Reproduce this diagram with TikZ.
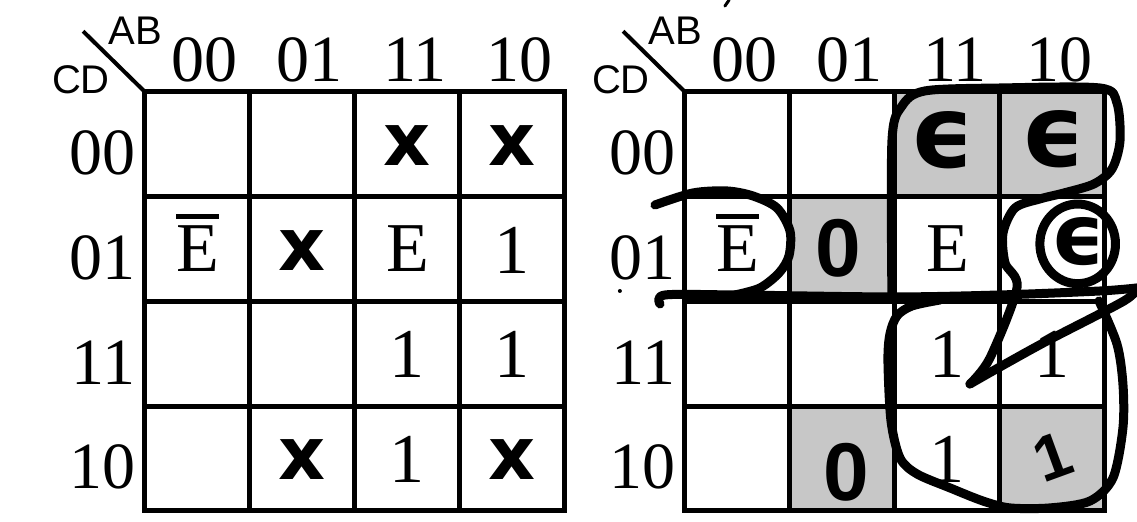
\documentclass[tikz,border=0pt]{standalone}
\usepackage{fontspec}
\setmainfont{Liberation Serif}
\setsansfont{Liberation Sans}
\newfontfamily\xfont{DejaVu Sans Bold}
\newfontfamily\penfont{DejaVu Sans Bold}
\newfontfamily\pendigit{Liberation Sans Bold}
\newcommand\Ebar{\vbox{\hrule height 5pt\kern 6pt\hbox{E}}}

\begin{document}
\begin{tikzpicture}[x=105pt,y=-104.75pt,
  grid/.style={line width=5pt,line cap=rect},
  loop/.style={line width=9pt,line cap=round,line join=round},
  lbl/.style={font=\fontsize{66}{66}\selectfont,inner sep=0pt},
  var/.style={font=\sffamily\fontsize{40}{40}\selectfont,inner sep=0pt},
  entry/.style={font=\fontsize{70}{70}\selectfont,inner sep=0pt,anchor=base},
  dc/.style={font=\xfont\fontsize{73}{73}\selectfont,inner sep=0pt,anchor=base},
  pen/.style={font=\penfont\fontsize{100}{100}\selectfont,inner sep=0pt},
  pendig/.style={font=\pendigit\fontsize{82}{82}\selectfont,inner sep=0pt},
  shade/.style={fill=black!22}]
  \useasboundingbox (-1.381,-0.878) rectangle (9.448,4.096);
  % shaded cells of the second map
  \foreach \c/\r in {2/0,3/0,1/1,1/3,3/3}
    \fill[shade] (5.143+\c,\r) rectangle (6.143+\c,\r+1);
  % the two grids with their labels
  \foreach \m/\dx in {l/0,r/5.143}
  {
    \foreach \i in {0,...,4}
    {
      \draw[grid] (\dx+\i,0) -- (\dx+\i,4);
      \draw[grid] (\dx,\i) -- (\dx+4,\i);
    }
    \draw[line width=4pt] (\dx-0.01,-0.01) -- ++(-0.58,-0.57);
    \node[var] (\m AB) at (\dx-0.09,-0.58) {AB};
    \node[var] (\m CD) at (\dx-0.61,-0.12) {CD};
    \foreach \g [count=\i from 0] in {00,01,11,10}
    {
      \node[lbl,anchor=base] (\m c\i) at (\dx+\i+0.57,-0.1) {\g};
      \node[lbl,anchor=base east] (\m r\i) at (\dx-0.09,\i+0.79) {\g};
    }
  }
  % first map
  \foreach \c/\r in {2/0,3/0,1/1,1/3,3/3}
    \node[dc] (l\c\r) at (\c+0.5,\r+0.70) {x};
  \foreach \c/\r in {3/1,2/2,3/2,2/3}
    \node[entry] (l\c\r) at (\c+0.5,\r+0.73) {1};
  \node[entry] (l21) at (2.5,1.71) {E};
  \node[entry] (l01) at (0.5,1.71) {\Ebar};
  % second map
  \foreach \c/\r in {2/2,3/2,2/3}
    \node[entry] (r\c\r) at (5.643+\c,\r+0.73) {1};
  \node[entry] (r21) at (7.643,1.71) {E};
  \node[entry] (r01) at (5.643,1.71) {\Ebar};
  \node[pen] (r20) at (7.593,0.46) {ϵ};
  \node[pen] (r30) at (8.653,0.45) {ϵ};
  \node[pen,font=\penfont\fontsize{84}{84}\selectfont] (r31) at (8.893,1.43) {ϵ};
  \node[pendig] (r11) at (6.603,1.49) {0};
  \node[pendig] (r13) at (6.683,3.63) {0};
  \node[pendig,rotate=20,font=\pendigit\fontsize{64}{64}\selectfont] (r33) at (8.643,3.48) {1};
  % hand drawn groups
  \begin{scope}[shift={(5.143,0)},loop]
    \draw plot[smooth] coordinates {(-0.286,1.079) (0.076,0.964) (0.400,0.945)
      (0.648,0.993) (0.876,1.107) (1.0,1.327) (0.990,1.566) (0.895,1.728)
      (0.714,1.871) (0.476,1.938)};
    \draw plot[smooth] coordinates {(-0.238,2.024) (-0.190,1.938) (0.476,1.938)
      (1.971,1.957) (3.0,1.938) (3.952,1.900) (4.305,1.871)};
    \draw plot[smooth] coordinates {(4.305,1.871) (4.181,1.995) (3.448,2.377)
      (3.0,2.625) (2.714,2.788)};
    \draw plot[smooth] coordinates {(2.714,2.788) (2.905,2.539) (3.162,1.871)
      (3.048,1.632) (3.029,1.346) (3.143,1.107) (3.381,1.021) (3.610,0.964)
      (3.895,0.878) (4.067,0.735) (4.143,0.468) (4.114,0.105) (3.952,-0.038)
      (3.0,-0.038) (2.286,-0.010) (2.067,0.134) (1.971,0.468) (1.971,1.957)};
    \draw plot[smooth] coordinates {(3.943,1.995) (4.114,2.406) (4.171,2.788)
      (4.171,3.208) (4.076,3.685) (3.857,3.905) (3.476,3.971) (3.095,3.971)
      (2.838,3.905) (2.524,3.780) (2.210,3.647) (2.048,3.494) (1.962,3.141)
      (1.933,2.568) (1.952,2.310) (2.019,2.138) (2.162,2.043) (2.429,1.986)};
    \draw (3.74,1.45) ellipse [x radius=0.36,y radius=0.38];
    \draw[line width=3pt] (0.42,-0.878) -- (0.38,-0.82);
    \fill (-0.62,1.9) circle (2pt);
  \end{scope}
\end{tikzpicture}
\end{document}
